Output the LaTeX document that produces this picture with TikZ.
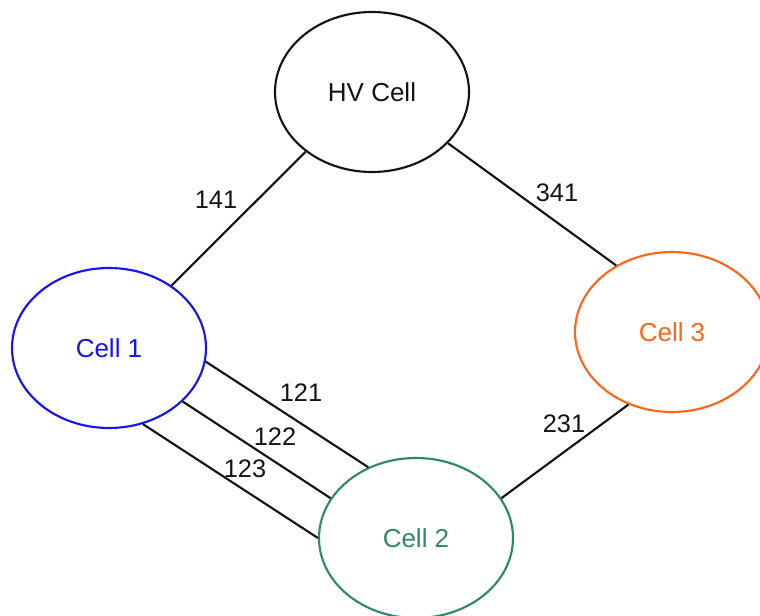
\documentclass[tikz,border=0pt]{standalone}
\usepackage{fontspec}
\setmainfont{Liberation Sans}
\usetikzlibrary{shapes.geometric}
\definecolor{cellblue}{RGB}{20,20,245}
\definecolor{cellgreen}{RGB}{46,139,95}
\definecolor{cellorange}{RGB}{255,102,26}
\definecolor{linegray}{RGB}{20,20,20}
\begin{document}
\begin{tikzpicture}[x=0.75pt,y=-0.75pt,
  cell/.style={ellipse, draw, line width=1.6pt, minimum width=145.5pt, minimum height=120pt, inner sep=0pt, font=\fontsize{19.5}{21}\selectfont},
  link/.style={draw=linegray, line width=1.6pt},
  lbl/.style={inner sep=0pt, text=linegray, font=\fontsize{19}{21}\selectfont}]
\useasboundingbox (0,0) rectangle (760,616);
\node[cell, draw=linegray, text=linegray] (hv) at (372,92) {HV Cell};
\node[cell, draw=cellblue, text=cellblue] (c1) at (109,348) {Cell 1};
\node[cell, draw=cellorange, text=cellorange] (c3) at (672,332) {Cell 3};
\node[cell, draw=cellgreen, text=cellgreen] (c2) at (416,538) {Cell 2};
\draw[link] (hv.222) -- (c1.45);
\draw[link] (hv.326) -- (c3.130);
\draw[link] (c3.239) -- (c2.25);
\draw[link] (c1.-8.5) -- (c2.124);
\draw[link] (c1.-36.5) -- (c2.155);
\draw[link] (c1.-66.3) -- (c2.180.6);
\node[lbl] (l141) at (216,200) {141};
\node[lbl] (l341) at (557,193) {341};
\node[lbl] (l231) at (564,424) {231};
\node[lbl] (l121) at (301,393) {121};
\node[lbl] (l122) at (275,437) {122};
\node[lbl] (l123) at (245,469) {123};
\end{tikzpicture}
\end{document}
